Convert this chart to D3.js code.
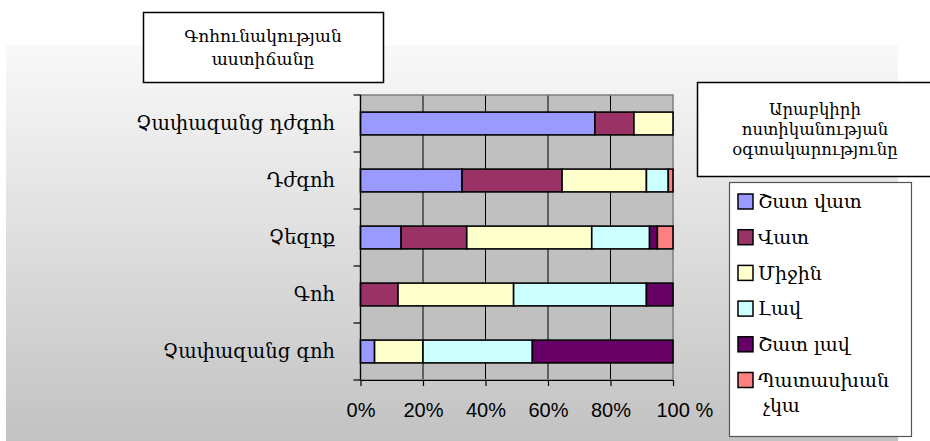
<!DOCTYPE html>
<html><head><meta charset="utf-8">
<script src="https://cdn.jsdelivr.net/npm/d3@7"></script>
<style>body{margin:0;background:#fff}svg{display:block}</style>
</head><body>
<svg id="c" width="930" height="441"></svg>
<script>
const categories = ["Չափազանց դժգոհ","Դժգոհ","Չեզոք","Գոհ","Չափազանց գոհ"];
const seriesNames = ["Շատ վատ","Վատ","Միջին","Լավ","Շատ լավ","Պատասխան չկա"];
const seriesColors = ["#9999FF","#993366","#FFFFCC","#CCFFFF","#660066","#FF8080"];
const shatVat   = [75, 32.5, 13, 0, 4.5];
const vat       = [12.5, 32, 21, 12, 0];
const mijin     = [12.5, 27, 40, 37, 15.5];
const lav       = [0, 7, 18.5, 42.5, 35];
const shatLav   = [0, 0, 2.5, 8.5, 45];
const chka      = [0, 1.5, 5, 0, 0];
const xTicks = [0, 0.2, 0.4, 0.6, 0.8, 1];
const xTickLabels = ["0%","20%","40%","60%","80%","100 %"];
const titleLines = ["Գոհունակության","աստիճանը"];
const legendTitleLines = ["Արաբկիրի","ոստիկանության","օգտակարությունը"];

const seriesVals = [shatVat, vat, mijin, lav, shatLav, chka];
const rows = categories.map((c,i)=>{
  const o={cat:c};
  seriesNames.forEach((s,j)=>o[s]=seriesVals[j][i]);
  return o;
});
const stack = d3.stack().keys(seriesNames).offset(d3.stackOffsetExpand)(rows);

const FONT = "DejaVu Serif, DejaVu Sans, serif";
const svg = d3.select("#c");
const defs = svg.append("defs");
const g = defs.append("linearGradient").attr("id","bg").attr("x1",0).attr("y1",0).attr("x2",0).attr("y2",1);
g.append("stop").attr("offset","0%").attr("stop-color","#F9F9F9");
g.append("stop").attr("offset","100%").attr("stop-color","#C2C2C2");

svg.append("rect").attr("x",6).attr("y",45).attr("width",892).attr("height",396).attr("fill","url(#bg)");

const L=360.5, R=673, T=95, B=380;
const x = d3.scaleLinear().domain([0,1]).range([L,R]);
const y = d3.scaleBand().domain(categories).range([T,B]).paddingInner(0.6).paddingOuter(0.3);

svg.append("rect").attr("x",L).attr("y",T).attr("width",R-L).attr("height",B-T).attr("fill","#C0C0C0");
svg.append("g").selectAll("line").data(xTicks.slice(1,-1)).join("line")
  .attr("x1",d=>x(d)).attr("x2",d=>x(d)).attr("y1",T).attr("y2",B).attr("stroke","#000").attr("stroke-width",1);
svg.append("rect").attr("x",L).attr("y",T).attr("width",R-L).attr("height",B-T).attr("fill","none").attr("stroke","#808080").attr("stroke-width",1.5);

svg.append("g").selectAll("g").data(stack).join("g")
  .attr("fill",(d,i)=>seriesColors[i])
  .selectAll("rect").data(d=>d).join("rect")
  .attr("x",d=>x(d[0])).attr("width",d=>Math.max(0,x(d[1])-x(d[0])))
  .attr("y",d=>y(d.data.cat)).attr("height",y.bandwidth())
  .attr("stroke",d=>(d[1]-d[0])>0?"#000":"none").attr("stroke-width",1.6);

// y axis
const ax = svg.append("g");
ax.append("line").attr("x1",L).attr("x2",L).attr("y1",T).attr("y2",B).attr("stroke","#000").attr("stroke-width",1.2);
const bounds = d3.range(6).map(i=>T+(B-T)*i/5);
ax.selectAll("line.t").data(bounds).join("line").attr("class","t")
  .attr("x1",L-7).attr("x2",L).attr("y1",d=>d).attr("y2",d=>d).attr("stroke","#000").attr("stroke-width",1.2);
ax.selectAll("text").data(categories).join("text")
  .attr("x",335).attr("y",d=>y(d)+y.bandwidth()/2).attr("dy","0.35em")
  .attr("text-anchor","end").attr("font-family",FONT).attr("font-size",19.5).attr("fill","#000").text(d=>d);

// x axis
const xa = svg.append("g").attr("transform",`translate(0,${B})`)
  .call(d3.axisBottom(x).tickValues(xTicks).tickSize(6).tickSizeOuter(0).tickFormat((d,i)=>xTickLabels[i]));
xa.select(".domain").attr("stroke","#000").attr("stroke-width",1.2);
xa.selectAll(".tick line").attr("stroke","#000").attr("stroke-width",1.2);
xa.selectAll(".tick text").attr("font-family","Liberation Sans, Arial").attr("font-size",20).attr("fill","#000").attr("y",23).attr("dy","0.71em");
xa.selectAll(".tick text").filter((d,i)=>i===5).attr("text-anchor","start").attr("dx",-17);

// title box
svg.append("rect").attr("x",143.5).attr("y",12.5).attr("width",240).attr("height",70).attr("fill","#fff").attr("stroke","#000").attr("stroke-width",1.5);
svg.append("g").selectAll("text").data(titleLines).join("text")
  .attr("x",263).attr("y",(d,i)=>42+i*23).attr("text-anchor","middle")
  .attr("font-family",FONT).attr("font-size",17).text(d=>d);

// legend title box
svg.append("rect").attr("x",697.5).attr("y",82.5).attr("width",240).attr("height",94).attr("fill","#fff").attr("stroke","#000").attr("stroke-width",1.5);
svg.append("g").selectAll("text").data(legendTitleLines).join("text")
  .attr("x",815).attr("y",(d,i)=>115+i*20).attr("text-anchor","middle")
  .attr("font-family",FONT).attr("font-size",16.5).text(d=>d);

// legend
svg.append("rect").attr("x",729.5).attr("y",182.5).attr("width",182).attr("height",254).attr("fill","#fff").attr("stroke","#555").attr("stroke-width",1.2);
const lg = svg.append("g").selectAll("g").data(seriesNames).join("g")
  .attr("transform",(d,i)=>`translate(738,${201.5+i*35.7})`);
lg.append("rect").attr("x",0).attr("y",-7.5).attr("width",15).attr("height",15)
  .attr("fill",(d,i)=>seriesColors[i]).attr("stroke","#000").attr("stroke-width",1.5);
lg.append("text").attr("x",20).attr("y",0).attr("dy","0.35em")
  .attr("font-family",FONT).attr("font-size",19)
  .each(function(d){
    const parts = d==="Պատասխան չկա" ? ["Պատասխան","չկա"] : [d];
    d3.select(this).selectAll("tspan").data(parts).join("tspan")
      .attr("x",(p,i)=>i?25:20).attr("dy",(p,i)=>i?"25":null).text(p=>p);
  });
</script>
</body></html>
